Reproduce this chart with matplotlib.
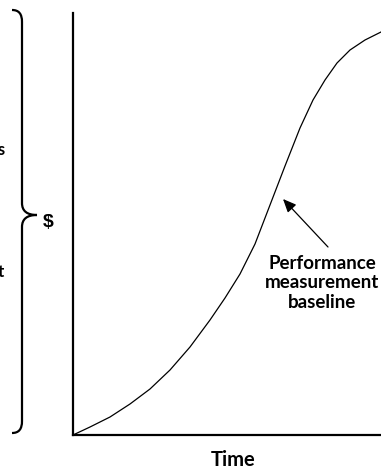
import numpy as np
from matplotlib import pyplot as plt
from matplotlib.path import Path
from matplotlib.patches import PathPatch

# cumulative cost curve (time, $)
time = [0, 17, 37, 57, 77, 97, 117, 137, 152, 167, 182, 197, 212, 227,
        240, 252, 264, 277, 292, 308]
cost = [0, 8, 18, 31, 46, 65, 88, 115, 137, 161, 191, 230, 269, 307,
        335, 355, 372, 385, 395, 403]

W, H = 381, 472
fig = plt.figure(figsize=(W / 100, H / 100), dpi=100)


def px(x, y):
    # pixel position (from top-left) -> figure fraction
    return x / W, 1 - y / H


font = ["Lato", "DejaVu Sans"]

ax = fig.add_axes([73 / W, 1 - 435 / H, (W - 73) / W, (435 - 13) / H])
ax.plot(time, cost, color="black", linewidth=0.9, solid_joinstyle="round")
ax.set_xlim(0, 308)
ax.set_ylim(0, 422)
ax.set_xticks([])
ax.set_yticks([])
for side in ["top", "right"]:
    ax.spines[side].set_visible(False)
for side in ["left", "bottom"]:
    ax.spines[side].set_linewidth(1.6)

fig.text(*px(233, 460), "Time", ha="center", va="center",
         fontsize=14.5, fontweight="bold", family=font)

# annotation
ax.text(249, 152, "Performance\nmeasurement\nbaseline", ha="center", va="center",
        fontsize=13.5, fontweight="bold", family=font, linespacing=1.15)
ax.annotate("", xy=(210, 236), xytext=(255, 188),
            arrowprops=dict(arrowstyle="-|>,head_length=0.8,head_width=0.35",
                            color="black", lw=0.9, shrinkA=0, shrinkB=0))

# curly brace on the left
verts = [px(12, 10), px(19, 10), px(22, 14), px(22, 22),
         px(22, 203),
         px(22, 211), px(27, 215), px(37, 215),
         px(27, 215), px(22, 219), px(22, 227),
         px(22, 421),
         px(22, 429), px(19, 433), px(12, 433)]
codes = [Path.MOVETO, Path.CURVE4, Path.CURVE4, Path.CURVE4,
         Path.LINETO,
         Path.CURVE4, Path.CURVE4, Path.CURVE4,
         Path.CURVE4, Path.CURVE4, Path.CURVE4,
         Path.LINETO,
         Path.CURVE4, Path.CURVE4, Path.CURVE4]
fig.add_artist(PathPatch(Path(verts, codes), transform=fig.transFigure,
                         facecolor="none", edgecolor="black", lw=1.6))

fig.text(*px(48, 223), "$", ha="center", va="center",
         fontsize=14, fontweight="bold", family=["Liberation Sans", "DejaVu Sans"])

# labels cut off by the left edge
fig.text(*px(5, 150), "Management reserves", ha="right", va="center",
         fontsize=12, fontweight="bold", family=font)
fig.text(*px(4, 272), "Project budget", ha="right", va="center",
         fontsize=12, fontweight="bold", family=font)

fig.savefig("out.png", dpi=100)
